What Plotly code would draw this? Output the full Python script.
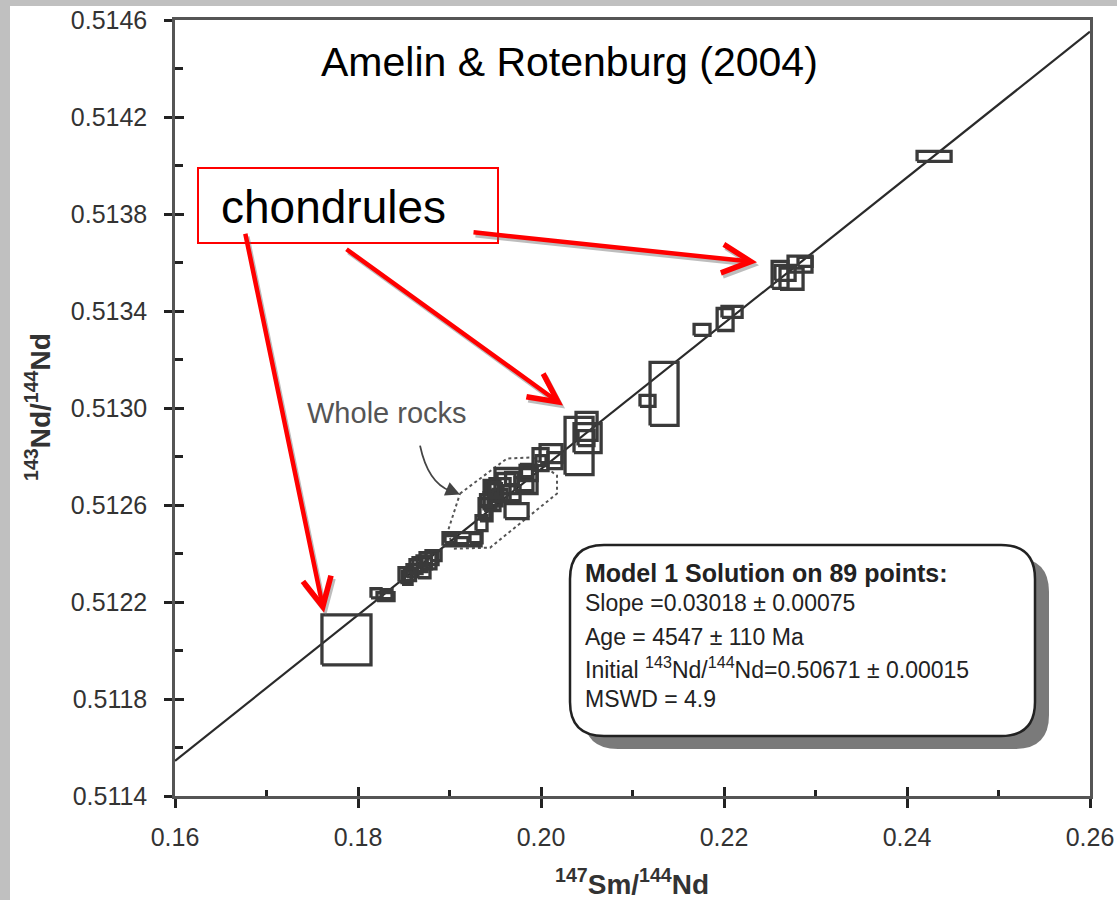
import plotly.graph_objects as go

# ---------------- data ----------------
# error boxes: centre x (147Sm/144Nd), centre y (143Nd/144Nd), half-width, half-height
box_x = [0.17874, 0.18197, 0.18301, 0.18317, 0.18536, 0.18590, 0.18678, 0.18765, 0.18809, 0.18721,
         0.18514, 0.18634, 0.18853, 0.18700, 0.18569, 0.18743,
         0.19137, 0.19011, 0.19131, 0.19290, 0.19350, 0.19383,
         0.19727, 0.19733, 0.19465, 0.19552, 0.19618, 0.19814, 0.19498, 0.19678, 0.19864, 0.19399,
         0.19443, 0.19552, 0.19465, 0.19399, 0.19498, 0.19683, 0.19847,
         0.19995, 0.20110, 0.20153, 0.20000,
         0.20416, 0.20498, 0.20509, 0.20492,
         0.21345, 0.21164, 0.21760, 0.22012, 0.22088,
         0.22613, 0.22738, 0.22831, 0.22667, 0.22886,
         0.24296]
box_y = [0.512044, 0.512236, 0.512222, 0.512232, 0.512300, 0.512329, 0.512354, 0.512370, 0.512383, 0.512329,
         0.512313, 0.512346, 0.512391, 0.512370, 0.512313, 0.512362,
         0.512459, 0.512459, 0.512453, 0.512463, 0.512525, 0.512585,
         0.512699, 0.512575, 0.512639, 0.512663, 0.512705, 0.512686, 0.512628, 0.512649, 0.512732, 0.512566,
         0.512618, 0.512639, 0.512668, 0.512618, 0.512659, 0.512709, 0.512742,
         0.512787, 0.512812, 0.512783, 0.512783,
         0.512843, 0.512924, 0.512876, 0.512876,
         0.513058, 0.513029, 0.513322, 0.513365, 0.513396,
         0.513549, 0.513533, 0.513593, 0.513557, 0.513603,
         0.514038]
box_dx = [0.00268, 0.00055, 0.00093, 0.00055, 0.00055, 0.00055, 0.00077, 0.00087, 0.00066, 0.00066,
          0.00066, 0.00066, 0.00055, 0.00055, 0.00060, 0.00060,
          0.00208, 0.00060, 0.00071, 0.00066, 0.00060, 0.00060,
          0.00230, 0.00126, 0.00087, 0.00110, 0.00098, 0.00098, 0.00077, 0.00093, 0.00093, 0.00066,
          0.00066, 0.00077, 0.00066, 0.00060, 0.00070, 0.00070, 0.00060,
          0.00082, 0.00120, 0.00077, 0.00055,
          0.00153, 0.00115, 0.00148, 0.00087,
          0.00153, 0.00082, 0.00087, 0.00087, 0.00110,
          0.00087, 0.00126, 0.00131, 0.00110, 0.00077,
          0.00186]
box_dy = [0.000103, 0.0000186, 0.0000165, 0.0000186, 0.000027, 0.000025, 0.000029, 0.000033, 0.000029, 0.000029,
          0.000029, 0.000029, 0.0000206, 0.0000206, 0.000025, 0.000025,
          0.000027, 0.0000145, 0.0000124, 0.0000186, 0.000031, 0.0000413,
          0.0000516, 0.000031, 0.000062, 0.0000454, 0.0000248, 0.0000268, 0.000031, 0.000031, 0.000031, 0.000031,
          0.000033, 0.000025, 0.000025, 0.000025, 0.000029, 0.000025, 0.000025,
          0.0000454, 0.0000372, 0.000033, 0.0000206,
          0.000118, 0.0000578, 0.0000599, 0.000031,
          0.00013, 0.0000227, 0.0000227, 0.0000454, 0.0000227,
          0.0000557, 0.0000434, 0.000033, 0.000031, 0.0000186,
          0.0000206]

# isochron line end points
iso_x = [0.16, 0.26]
iso_y = [0.511545, 0.514552]

# "whole rocks" dotted outline
wr_x = [0.19115, 0.19629, 0.19913, 0.20175, 0.20175, 0.19443, 0.19039, 0.18984, 0.19115]
wr_y = [0.512647, 0.512792, 0.512796, 0.512721, 0.512647, 0.512424, 0.512420, 0.512494, 0.512647]

# ticks
x_ticks = [0.16, 0.18, 0.20, 0.22, 0.24, 0.26]
x_ticklabels = ["0.16", "0.18", "0.20", "0.22", "0.24", "0.26"]
y_ticks = [0.5114, 0.5118, 0.5122, 0.5126, 0.5130, 0.5134, 0.5138, 0.5142, 0.5146]
y_ticklabels = ["0.5114", "0.5118", "0.5122", "0.5126", "0.5130", "0.5134", "0.5138", "0.5142", "0.5146"]

# red arrows: head (x, y) and tail (ax, ay) in data units
arrow_head_x = [0.17629, 0.20241, 0.22361]
arrow_head_y = [0.512156, 0.513010, 0.513601]
arrow_tail_x = [0.16765, 0.17858, 0.19246]
arrow_tail_y = [0.513725, 0.513659, 0.513725]

legend_lines = [
    "<b>Model 1 Solution on 89 points:</b>",
    "Slope =0.03018 ± 0.00075",
    "Age = 4547 ± 110 Ma",
    "Initial <sup>143</sup>Nd/<sup>144</sup>Nd=0.50671 ± 0.00015",
    "MSWD = 4.9",
]
legend_sizes = [25, 23, 23, 23, 23]

FONT = "Liberation Sans, Arial, Helvetica, sans-serif"
BOXC = "#3a3a3a"

# ---------------- figure ----------------
fig = go.Figure()

# box outlines built from data
bx, by = [], []
for xc, yc, ex, ey in zip(box_x, box_y, box_dx, box_dy):
    bx += [xc - ex, xc + ex, xc + ex, xc - ex, xc - ex, None]
    by += [yc - ey, yc - ey, yc + ey, yc + ey, yc - ey, None]

fig.add_trace(go.Scatter(x=wr_x, y=wr_y, mode="lines",
                         line=dict(color="#555555", width=2, dash="dot"),
                         hoverinfo="skip", showlegend=False))
fig.add_trace(go.Scatter(x=iso_x, y=iso_y, mode="lines",
                         line=dict(color="#2a2a2a", width=2.2),
                         hoverinfo="skip", showlegend=False))
fig.add_trace(go.Scatter(x=bx, y=by, mode="lines",
                         line=dict(color=BOXC, width=3.3),
                         hoverinfo="skip", showlegend=False))
# dummy trace to create overlay axes (for inner half of major ticks)
fig.add_trace(go.Scatter(x=[None], y=[None], xaxis="x2", yaxis="y2",
                         hoverinfo="skip", showlegend=False))

axis_common = dict(showgrid=False, zeroline=False, automargin=False)
fig.update_layout(
    template="none",
    width=1117, height=900,
    margin=dict(l=175, r=27, t=20, b=104, autoexpand=False),
    paper_bgcolor="white", plot_bgcolor="white",
    showlegend=False,
    font=dict(family=FONT, color="#333333"),
    xaxis=dict(range=[0.16, 0.26], tickmode="array", tickvals=x_ticks, ticktext=x_ticklabels,
               ticks="outside", ticklen=9, tickwidth=3, tickcolor="#222222",
               minor=dict(ticks="inside", ticklen=6, tickwidth=3, tickcolor="#222222",
                          tickmode="array", tickvals=[0.17, 0.19, 0.21, 0.23, 0.25]),
               showline=True, linewidth=2.5, linecolor="#555555", mirror=True,
               tickfont=dict(size=25, color="#333333", family=FONT),
               ticklabelstandoff=8, **axis_common),
    yaxis=dict(range=[0.5114, 0.5146], tickmode="array", tickvals=y_ticks, ticktext=y_ticklabels,
               ticks="outside", ticklen=8, tickwidth=3, tickcolor="#222222",
               minor=dict(ticks="inside", ticklen=8, tickwidth=3, tickcolor="#222222",
                          tickmode="array",
                          tickvals=[0.5116, 0.5120, 0.5124, 0.5128, 0.5132, 0.5136, 0.5140, 0.5144]),
               showline=True, linewidth=2.5, linecolor="#555555", mirror=True,
               tickfont=dict(size=25, color="#333333", family=FONT),
               ticklabelstandoff=12, **axis_common),
    xaxis2=dict(range=[0.16, 0.26], overlaying="x", anchor="y2", tickmode="array", tickvals=x_ticks,
                ticks="inside", ticklen=9, tickwidth=3, tickcolor="#222222",
                showticklabels=False, showline=False, **axis_common),
    yaxis2=dict(range=[0.5114, 0.5146], overlaying="y", anchor="x2", tickmode="array", tickvals=y_ticks,
                ticks="inside", ticklen=9, tickwidth=3, tickcolor="#222222",
                showticklabels=False, showline=False, **axis_common),
)

# ---------------- decorations (paper coords) ----------------
W_PLOT, H_PLOT, L, T = 915.0, 776.0, 175.0, 20.0


def px(xp):
    return (xp - L) / W_PLOT


def py(yp):
    return (T + H_PLOT - yp) / H_PLOT


def rrect(x0, x1, y0, y1, r):
    a, b, c, d = px(x0), px(x1), py(y1), py(y0)  # left, right, bottom, top
    rx, ry = r / W_PLOT, r / H_PLOT
    return (f"M{a+rx},{d} L{b-rx},{d} Q{b},{d} {b},{d-ry} L{b},{c+ry} Q{b},{c} {b-rx},{c} "
            f"L{a+rx},{c} Q{a},{c} {a},{c+ry} L{a},{d-ry} Q{a},{d} {a+rx},{d} Z")


shapes = []
# grey frame of the slide
shapes.append(dict(type="rect", xref="paper", yref="paper", x0=px(0), x1=px(10), y0=py(900), y1=py(0),
                   fillcolor="#c0c0c0", line=dict(width=0), layer="above"))
shapes.append(dict(type="rect", xref="paper", yref="paper", x0=px(0), x1=px(1117), y0=py(6), y1=py(0),
                   fillcolor="#c0c0c0", line=dict(width=0), layer="above"))
# legend box shadow and box
shapes.append(dict(type="path", xref="paper", yref="paper", path=rrect(584, 1049, 558, 749, 34),
                   fillcolor="#7a7a7a", line=dict(width=0), layer="above"))
shapes.append(dict(type="path", xref="paper", yref="paper", path=rrect(570, 1035, 545, 736, 34),
                   fillcolor="white", line=dict(color="#222222", width=2.5), layer="above"))
# chondrules label box
shapes.append(dict(type="rect", xref="paper", yref="paper", x0=px(198), x1=px(498), y0=py(243), y1=py(168),
                   fillcolor="white", line=dict(color="#ff0000", width=2), layer="above"))
# curved "whole rocks" pointer
shapes.append(dict(type="path", xref="x", yref="y",
                   path="M0.18678,0.512845 Q0.18765,0.512692 0.19006,0.512659",
                   line=dict(color="#444444", width=1.8), layer="above"))
fig.update_layout(shapes=shapes)

ann = []
# arrow shadows then red arrows
for hx, hy, tx, ty in zip(arrow_head_x, arrow_head_y, arrow_tail_x, arrow_tail_y):
    ann.append(dict(x=hx, y=hy, ax=tx, ay=ty, xref="x", yref="y", axref="x", ayref="y",
                    text="", showarrow=True, arrowhead=5, arrowsize=1.25, arrowwidth=4.5,
                    arrowcolor="rgba(110,110,110,0.45)", xshift=2, yshift=-3))
for hx, hy, tx, ty in zip(arrow_head_x, arrow_head_y, arrow_tail_x, arrow_tail_y):
    ann.append(dict(x=hx, y=hy, ax=tx, ay=ty, xref="x", yref="y", axref="x", ayref="y",
                    text="", showarrow=True, arrowhead=5, arrowsize=1.25, arrowwidth=4.5,
                    arrowcolor="#ff0000"))
# small arrow head of whole-rocks pointer
ann.append(dict(x=0.19115, y=0.512643, ax=-14, ay=-6, xref="x", yref="y",
                text="", showarrow=True, arrowhead=2, arrowsize=1.6, arrowwidth=1.8, arrowcolor="#444444"))

ann.append(dict(x=px(569.5), y=py(62), xref="paper", yref="paper", text="Amelin &amp; Rotenburg (2004)",
                showarrow=False, font=dict(size=41, color="black", family=FONT),
                xanchor="center", yanchor="middle"))
ann.append(dict(x=px(333), y=py(207), xref="paper", yref="paper", text="chondrules",
                showarrow=False, font=dict(size=46, color="black", family=FONT),
                xanchor="center", yanchor="middle"))
ann.append(dict(x=px(386.5), y=py(413), xref="paper", yref="paper", text="Whole rocks",
                showarrow=False, font=dict(size=29, color="#555555", family=FONT),
                xanchor="center", yanchor="middle"))
# axis titles
ann.append(dict(x=px(632), y=py(882), xref="paper", yref="paper",
                text="<b><sup>147</sup>Sm/<sup>144</sup>Nd</b>",
                showarrow=False, font=dict(size=28, color="#333333", family=FONT),
                xanchor="center", yanchor="middle"))
ann.append(dict(x=px(38), y=py(407), xref="paper", yref="paper",
                text="<b><sup>143</sup>Nd/<sup>144</sup>Nd</b>", textangle=-90,
                showarrow=False, font=dict(size=28, color="#333333", family=FONT),
                xanchor="center", yanchor="middle"))
# legend text
leg_y = [573, 603, 637, 668, 699]
for t, yy, fs in zip(legend_lines, leg_y, legend_sizes):
    ann.append(dict(x=px(583), y=py(yy), xref="paper", yref="paper", text=t,
                    showarrow=False, font=dict(size=fs, color="#222222", family=FONT),
                    xanchor="left", yanchor="middle"))
fig.update_layout(annotations=ann)

fig.write_html("out.html", config={"displayModeBar": False},
               post_script="document.body.style.margin='0';document.body.style.padding='0';"
                           "document.body.style.overflow='hidden';"
                           "document.documentElement.style.overflow='hidden';")
